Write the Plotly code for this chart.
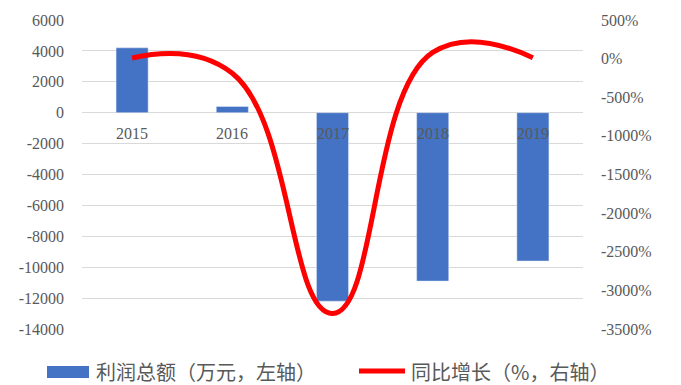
import plotly.graph_objects as go

years = ["2015", "2016", "2017", "2018", "2019"]
profit = [4200, 400, -12200, -10900, -9600]          # 万元
growth = [8, -190, -3300, 80, 12]                     # %

left_ticks = [6000, 4000, 2000, 0, -2000, -4000, -6000, -8000, -10000, -12000, -14000]
right_ticks = [500, 0, -500, -1000, -1500, -2000, -2500, -3000, -3500]

bar_name = "利润总额（万元，左轴）"
line_name = "同比增长（%，右轴）"

BLUE = "#4472C4"
RED = "#FF0000"
GREY = "#595959"
SERIF = "Liberation Serif, Times New Roman, serif"
tick_font = dict(family=SERIF, size=16, color=GREY)
leg_font = dict(family="Noto Sans CJK SC", size=20, color=GREY)

W, H = 681, 385
L, R, T, B = 82, 98, 20, 56
PW, PH = W - L - R, H - T - B


def px(x):
    return (x - L) / PW


def py(y):
    return (H - B - y) / PH


fig = go.Figure()
fig.add_trace(go.Bar(x=years, y=profit, name=bar_name, marker_color=BLUE, yaxis="y"))
fig.add_trace(go.Scatter(x=years, y=growth, name=line_name, mode="lines",
                         line=dict(color=RED, width=5, shape="spline", smoothing=1.3),
                         yaxis="y2"))

for i, yr in enumerate(years):
    fig.add_annotation(x=i, y=0, xref="x", yref="y", text=yr, showarrow=False,
                       yanchor="middle", yshift=-21, font=tick_font)

# custom legend below the plot
fig.add_shape(type="rect", xref="paper", yref="paper", x0=px(47), x1=px(89),
              y0=py(378), y1=py(366), fillcolor=BLUE, line_width=0)
fig.add_annotation(xref="paper", yref="paper", x=px(94), y=py(371), text=bar_name,
                   showarrow=False, xanchor="left", yanchor="middle", font=leg_font)
fig.add_shape(type="line", xref="paper", yref="paper", x0=px(359), x1=px(405),
              y0=py(371), y1=py(371), line=dict(color=RED, width=5))
fig.add_annotation(xref="paper", yref="paper", x=px(409), y=py(371), text=line_name,
                   showarrow=False, xanchor="left", yanchor="middle", font=leg_font)

fig.update_layout(
    width=W, height=H,
    margin=dict(l=L, r=R, t=T, b=B),
    font=dict(family=SERIF, size=16, color=GREY),
    plot_bgcolor="white", paper_bgcolor="white",
    bargap=0.68,
    showlegend=False,
    xaxis=dict(type="category", showticklabels=False, showgrid=False, zeroline=False,
               showline=False, range=[-0.5, 4.5]),
    yaxis=dict(range=[-14000, 6000], tickvals=left_ticks,
               ticktext=[str(v) for v in left_ticks], showgrid=True,
               gridcolor="#D9D9D9", gridwidth=1, zeroline=True, zerolinecolor="#D9D9D9",
               zerolinewidth=1, tickfont=tick_font, ticks="", showline=False,
               ticklabelstandoff=17, automargin=False),
    yaxis2=dict(range=[-3500, 500], tickvals=right_ticks,
                ticktext=[f"{v}%" for v in right_ticks], overlaying="y",
                side="right", showgrid=False, zeroline=False,
                tickfont=tick_font, ticks="", showline=False,
                ticklabelstandoff=17, automargin=False),
)

fig.write_html("out.html")
